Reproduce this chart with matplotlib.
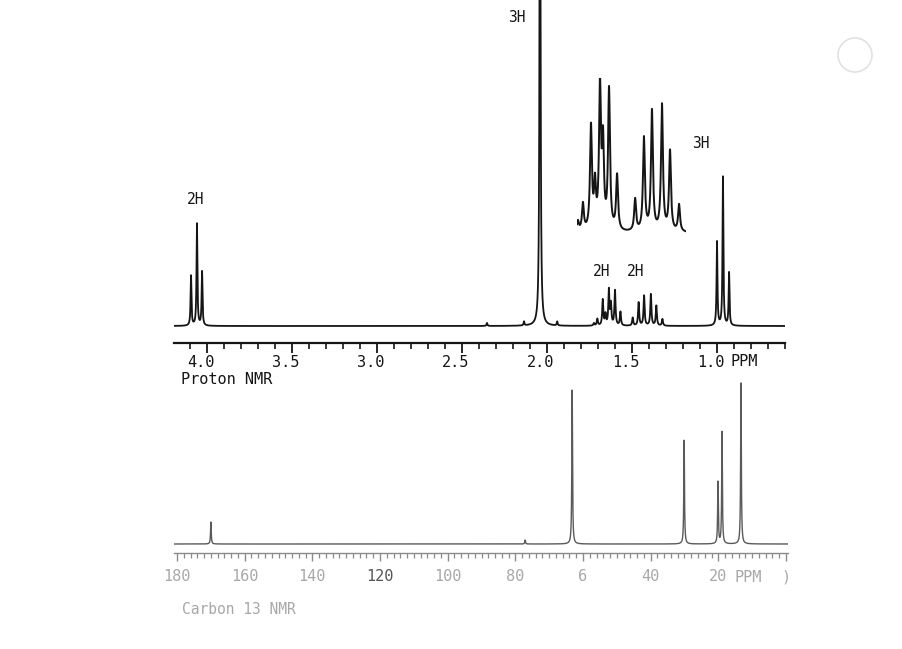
import numpy as np
import matplotlib
matplotlib.use("Agg")
import matplotlib.pyplot as plt
from matplotlib.ticker import FixedLocator, MultipleLocator
from matplotlib.transforms import ScaledTranslation
from matplotlib.patches import Circle

W, H = 902, 649

# proton lines: shift (ppm) and height above baseline (chart px)
h_shift = [4.094, 4.059, 4.029, 2.353, 2.135, 2.041, 1.94, 1.000, 0.965, 0.929]
h_height = [50, 102, 54, 3, 4, 700, 4, 84, 149, 53]

# the two CH2 multiplets, heights as in the expansion trace
mult_shift = [1.724, 1.704, 1.672, 1.656, 1.636, 1.624, 1.600, 1.568,
              1.496, 1.461, 1.429, 1.389, 1.357, 1.321]
mult_height = [10, 27, 103, 43, 141, 83, 140, 55,
               32, 93, 120, 126, 80, 27]
mult_scale = 0.25  # main trace vs expansion

h_ticks = [4.0, 3.5, 3.0, 2.5, 2.0, 1.5, 1.0]
h_ticklabels = ["4.0", "3.5", "3.0", "2.5", "2.0", "1.5", "1.0"]

# carbon lines
c_shift = [170.0, 77.1, 63.2, 30.1, 20.1, 18.9, 13.3]
c_height = [22, 4, 154, 104, 62, 112, 161]
c_ticks = [180, 160, 140, 120, 100, 80, 60, 40, 20, 0]
c_ticklabels = ["180", "160", "140", "120", "100", "80", "6", "40", "20", ")"]

# integration labels: text, x px, y px
h_labels = [("3H", 517, 18), ("2H", 196, 200), ("3H", 701, 144),
            ("2H", 602, 271), ("2H", 636, 271)]


def spectrum(x, shifts, heights, hw):
    y = np.zeros_like(x)
    for s, h in zip(shifts, heights):
        y += h / (1 + ((x - s) / hw) ** 2)
    return y


def box(x0, y0, x1, y1):
    return [x0 / W, 1 - y1 / H, (x1 - x0) / W, (y1 - y0) / H]


def pt(px):
    return px * 0.72


mono = "DejaVu Sans Mono"
ink = "#151515"

fig = plt.figure(figsize=(W / 100, H / 100), dpi=100)

# ---- proton ----
ax1 = fig.add_axes(box(174, 0, 785, 343))
x1 = np.linspace(4.194, 0.6, 12000)
y1 = spectrum(x1, h_shift, h_height, 0.003)
y1 += spectrum(x1, mult_shift, [h * mult_scale for h in mult_height], 0.0038)
ax1.plot(x1, y1, color=ink, lw=1.3)
ax1.set_xlim(4.194, 0.6)
ax1.set_ylim(-17, 326)
for s in ["top", "left", "right"]:
    ax1.spines[s].set_visible(False)
ax1.spines["bottom"].set_linewidth(1.6)
ax1.spines["bottom"].set_color(ink)
ax1.set_yticks([])
ax1.xaxis.set_major_locator(FixedLocator(h_ticks))
ax1.xaxis.set_minor_locator(MultipleLocator(0.1))
ax1.set_xticklabels(h_ticklabels, family=mono, fontsize=11, color=ink)
ax1.tick_params(axis="x", which="major", length=pt(10), width=1.3, color=ink, pad=pt(2))
ax1.tick_params(axis="x", which="minor", length=pt(6), width=1.2, color=ink)
shift_left = ScaledTranslation(-0.06, 0, fig.dpi_scale_trans)
for lab in ax1.get_xticklabels():
    lab.set_transform(lab.get_transform() + shift_left)

# expansion of the multiplets
ax_in = fig.add_axes(box(577, 78, 686, 235))
xi = np.linspace(1.7276, 1.2933, 3000)
ax_in.plot(xi, spectrum(xi, mult_shift, mult_height, 0.0045), color=ink, lw=1.4)
ax_in.set_xlim(1.7276, 1.2933)
ax_in.set_ylim(-2, 155)
ax_in.axis("off")

for txt, x, y in h_labels:
    fig.text(x / W, 1 - y / H, txt, family=mono, fontsize=10.5, color=ink,
             ha="center", va="center")
fig.text(744 / W, 1 - 361 / H, "PPM", family=mono, fontsize=11, color=ink,
         ha="center", va="center")
fig.text(181 / W, 1 - 380 / H, "Proton NMR", family=mono, fontsize=11, color=ink,
         ha="left", va="center")

# ---- carbon ----
grey = "#8a8a8a"
ax2 = fig.add_axes(box(174, 380, 788, 553))
x2 = np.linspace(180.9, -0.6, 12000)
ax2.plot(x2, spectrum(x2, c_shift, c_height, 0.12), color="#5a5a5a", lw=1.0)
ax2.set_xlim(180.9, -0.6)
ax2.set_ylim(-9, 164)
for s in ["top", "left", "right"]:
    ax2.spines[s].set_visible(False)
ax2.spines["bottom"].set_color(grey)
ax2.spines["bottom"].set_linewidth(1.0)
ax2.set_yticks([])
ax2.xaxis.set_major_locator(FixedLocator(c_ticks))
ax2.xaxis.set_minor_locator(MultipleLocator(2))
ax2.set_xticklabels(c_ticklabels, family=mono, fontsize=11, color="#a8a8a8")
ax2.get_xticklabels()[3].set_color("#555555")
ax2.tick_params(axis="x", which="major", length=pt(8), width=1.0, color=grey, pad=pt(8))
ax2.tick_params(axis="x", which="minor", length=pt(5), width=0.9, color=grey)

fig.text(748 / W, 1 - 578 / H, "PPM", family=mono, fontsize=11, color="#a8a8a8",
         ha="center", va="center")
fig.text(182 / W, 1 - 610 / H, "Carbon 13 NMR", family=mono, fontsize=10.5,
         color="#a8a8a8", ha="left", va="center")

# faint stamp in the corner of the scan
fig.add_artist(Circle((8.55, (H - 55) / 100), 0.17, transform=fig.dpi_scale_trans,
                      fill=False, edgecolor="#e2e2e2", lw=1.2))

fig.savefig("out.png", dpi=100)
print("saved out.png")
